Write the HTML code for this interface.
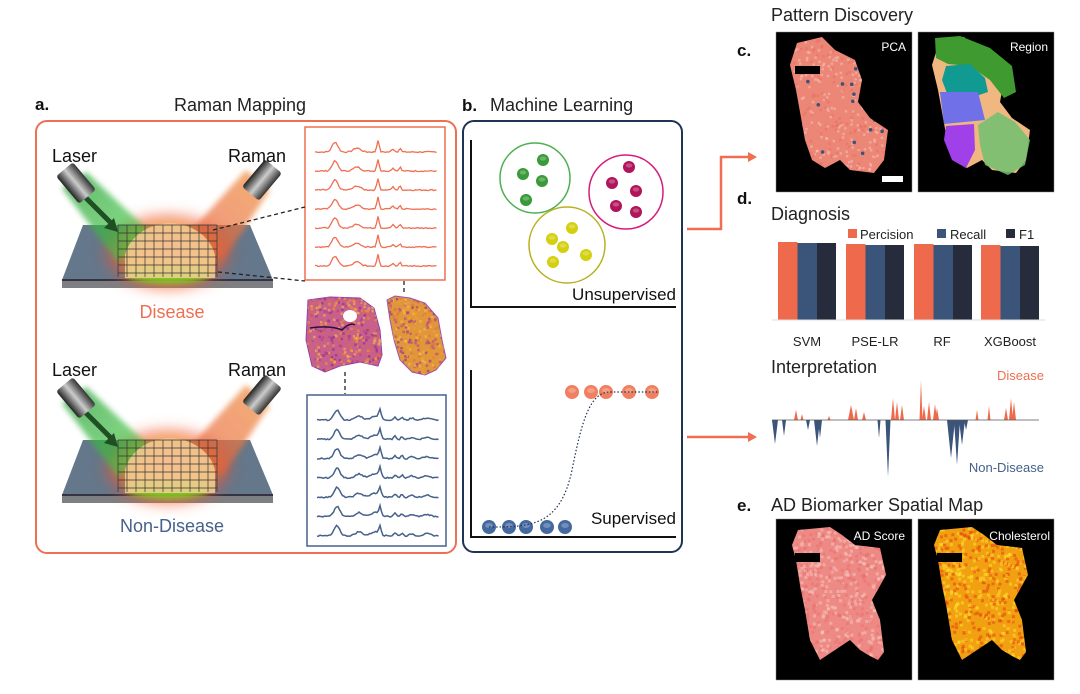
<!DOCTYPE html>
<html><head><meta charset="utf-8">
<style>
html,body{margin:0;padding:0;background:#fff;}
svg{display:block;font-family:"Liberation Sans","DejaVu Sans",sans-serif;}
</style></head>
<body>
<svg id="s" width="1080" height="694" viewBox="0 0 1080 694" xmlns="http://www.w3.org/2000/svg">
<defs>
  <radialGradient id="glowG" cx="50%" cy="50%" r="50%">
    <stop offset="0" stop-color="#f5c040" stop-opacity="1"/>
    <stop offset="0.55" stop-color="#f0a030" stop-opacity="0.85"/>
    <stop offset="0.8" stop-color="#f05030" stop-opacity="0.6"/>
    <stop offset="1" stop-color="#f05030" stop-opacity="0"/>
  </radialGradient>
  <linearGradient id="beamG" x1="0" y1="0" x2="1" y2="1">
    <stop offset="0" stop-color="#30a040" stop-opacity="0.9"/>
    <stop offset="1" stop-color="#40d040" stop-opacity="0.7"/>
  </linearGradient>
  <linearGradient id="beamO" x1="1" y1="0" x2="0" y2="1">
    <stop offset="0" stop-color="#f0a050" stop-opacity="0.95"/>
    <stop offset="1" stop-color="#e85030" stop-opacity="0.7"/>
  </linearGradient>
  <linearGradient id="cam" x1="0" y1="0" x2="1" y2="0">
    <stop offset="0" stop-color="#222"/><stop offset="0.5" stop-color="#ccc"/><stop offset="1" stop-color="#333"/>
  </linearGradient>
  <radialGradient id="brain" cx="50%" cy="45%" r="55%">
    <stop offset="0" stop-color="#f6c0a0"/><stop offset="1" stop-color="#f5d090"/>
  </radialGradient>
  <filter id="blur" x="-50%" y="-50%" width="200%" height="200%"><feGaussianBlur stdDeviation="6"/></filter>
  <filter id="blur2" x="-50%" y="-50%" width="200%" height="200%"><feGaussianBlur stdDeviation="3"/></filter>
  <clipPath id="cHeat">
    <path d="M308,300 L330,297 L360,298 L374,308 L380,330 L382,355 L378,366 L360,362 L340,366 L325,372 L312,366 L306,340 Z"/>
    <path d="M387,300 L395,296 L410,298 L425,303 L438,318 L442,340 L446,358 L436,370 L425,375 L412,372 L400,360 L394,340 L390,320 Z"/>
  </clipPath>
  <clipPath id="cPCA"><path d="M797,43 L822,37 L835,50 L855,60 L862,80 L858,102 L870,118 L888,130 L884,160 L874,173 L850,170 L840,160 L825,168 L812,160 L805,140 L800,112 L796,90 L790,65 Z"/></clipPath>
  <clipPath id="cAD"><path d="M798,530 L830,527 L842,535 L855,545 L880,548 L886,575 L872,600 L880,620 L884,652 L878,660 L870,656 L860,650 L850,640 L835,650 L820,660 L810,640 L805,610 L800,585 L796,560 L792,545 Z"/></clipPath>
  <clipPath id="cCH"><path d="M940,530 L972,527 L984,535 L997,545 L1022,548 L1028,575 L1014,600 L1022,620 L1026,652 L1020,660 L1012,656 L1002,650 L992,640 L977,650 L962,660 L952,640 L947,610 L942,585 L938,560 L934,545 Z"/></clipPath>
</defs>

<!-- ===== Panel a ===== -->
<text x="35" y="110" font-size="17" font-weight="bold" fill="#111">a.</text>
<text x="240" y="111" font-size="18" fill="#222" text-anchor="middle">Raman Mapping</text>
<rect x="36" y="121" width="420" height="432" rx="11" fill="none" stroke="#ef6f52" stroke-width="2"/>

<g id="setup1"></g>
<g id="setup2" transform="translate(0,215)"></g>

<text x="52" y="162" font-size="18" fill="#111">Laser</text>
<text x="228" y="162" font-size="18" fill="#111">Raman</text>
<text x="52" y="376" font-size="18" fill="#111">Laser</text>
<text x="228" y="376" font-size="18" fill="#111">Raman</text>
<text x="172" y="318" font-size="18" fill="#ef6f52" text-anchor="middle">Disease</text>
<text x="172" y="532" font-size="18" fill="#46618a" text-anchor="middle">Non-Disease</text>

<rect x="305" y="127" width="140" height="153" fill="#fff" stroke="#ef6f52" stroke-width="1.5"/>
<rect x="307" y="395" width="139" height="151" fill="#fff" stroke="#46618a" stroke-width="1.5"/>
<g id="specR" fill="none" stroke="#ef6f52" stroke-width="1.3"></g>
<g id="specB" fill="none" stroke="#46618a" stroke-width="1.5"></g>

<g stroke="#222" stroke-width="1.3" stroke-dasharray="4,3" fill="none">
  <line x1="213" y1="230" x2="305" y2="207"/>
  <line x1="218" y1="272" x2="305" y2="281"/>
  <line x1="404" y1="281" x2="404" y2="294"/>
  <line x1="345" y1="372" x2="345" y2="394"/>
</g>

<!-- heatmaps -->
<g id="heatbase">
  <path d="M308,300 L330,297 L360,298 L374,308 L380,330 L382,355 L378,366 L360,362 L340,366 L325,372 L312,366 L306,340 Z" fill="#c8608a" stroke="#9040b0" stroke-width="1"/>
  <path d="M387,300 L395,296 L410,298 L425,303 L438,318 L442,340 L446,358 L436,370 L425,375 L412,372 L400,360 L394,340 L390,320 Z" fill="#e0963a" stroke="#a050b0" stroke-width="1"/>
</g>
<g id="heat" clip-path="url(#cHeat)"></g>
<ellipse cx="350" cy="316" rx="7" ry="6" fill="#fff"/>

<!-- ===== Panel b ===== -->
<text x="462" y="111" font-size="17" font-weight="bold" fill="#111">b.</text>
<text x="490" y="111" font-size="18" fill="#222">Machine Learning</text>
<rect x="463" y="121" width="219" height="431" rx="11" fill="none" stroke="#1f3354" stroke-width="2"/>
<path d="M471,140 V307 H676" fill="none" stroke="#111" stroke-width="2"/>
<path d="M471,370 V537 H676" fill="none" stroke="#111" stroke-width="2"/>
<circle cx="535" cy="178" r="35" fill="none" stroke="#4cb050" stroke-width="1.5"/>
<circle cx="626" cy="192" r="37" fill="none" stroke="#d81b7a" stroke-width="1.5"/>
<circle cx="567" cy="245" r="38" fill="none" stroke="#b8b020" stroke-width="1.5"/>
<g id="dots"></g>
<text x="676" y="300" font-size="17" fill="#111" text-anchor="end">Unsupervised</text>
<text x="676" y="524" font-size="17" fill="#111" text-anchor="end">Supervised</text>
<path d="M489,527 C530,527 560,527 572,470 C582,420 590,392 610,392 L658,392" fill="none" stroke="#1f3354" stroke-width="1.2" stroke-dasharray="1.5,2"/>

<!-- arrows -->
<path d="M687,229 H721 V157 H750" fill="none" stroke="#ef6f52" stroke-width="2.5"/>
<polygon points="748,152 757,157 748,162" fill="#ef6f52"/>
<path d="M687,437 H750" fill="none" stroke="#ef6f52" stroke-width="2.5"/>
<polygon points="748,432 757,437 748,442" fill="#ef6f52"/>

<!-- ===== Panel c ===== -->
<text x="771" y="21" font-size="18" fill="#222">Pattern Discovery</text>
<text x="737" y="56" font-size="17" font-weight="bold" fill="#111">c.</text>
<rect x="776" y="32" width="136" height="160" fill="#000" stroke="#888" stroke-width="0.5"/>
<rect x="918" y="32" width="136" height="160" fill="#000" stroke="#888" stroke-width="0.5"/>
<path d="M797,43 L822,37 L835,50 L855,60 L862,80 L858,102 L870,118 L888,130 L884,160 L874,173 L850,170 L840,160 L825,168 L812,160 L805,140 L800,112 L796,90 L790,65 Z" fill="#ec8676"/>
<g transform="translate(142,0)">
  <path d="M797,43 L822,37 L835,50 L855,60 L862,80 L858,102 L870,118 L888,130 L884,160 L874,173 L850,170 L840,160 L825,168 L812,160 L805,140 L800,112 L796,90 L790,65 Z" fill="#f0b880"/>
</g>
<path d="M935,38 L960,36 L990,48 L1012,66 L1016,92 L1004,98 L990,80 L970,66 L948,64 L936,58 Z" fill="#3f9a2f"/>
<path d="M946,66 L970,64 L985,78 L988,92 L976,96 L948,96 L942,80 Z" fill="#109a92"/>
<path d="M940,92 L978,92 L985,120 L944,124 Z" fill="#7070e8"/>
<path d="M946,126 L974,124 L975,150 L966,168 L952,160 L944,140 Z" fill="#a040e8"/>
<path d="M978,125 L998,112 L1015,122 L1030,140 L1025,165 L1008,175 L985,165 L980,145 Z" fill="#70c070" opacity="0.85"/>
<g id="pcaS" clip-path="url(#cPCA)"></g>
<rect x="882" y="176" width="21" height="6" fill="#fff"/>
<text x="906" y="51" font-size="12" fill="#fff" text-anchor="end">PCA</text>
<text x="1048" y="51" font-size="12" fill="#fff" text-anchor="end">Region</text>

<!-- ===== Panel d ===== -->
<text x="737" y="204" font-size="17" font-weight="bold" fill="#111">d.</text>
<text x="771" y="220" font-size="18" fill="#222">Diagnosis</text>
<rect x="848" y="229" width="9" height="9" fill="#ef6a4c"/>
<text x="860" y="239" font-size="13" fill="#222">Percision</text>
<rect x="937" y="229" width="9" height="9" fill="#3b5479"/>
<text x="950" y="239" font-size="13" fill="#222">Recall</text>
<rect x="1006" y="229" width="9" height="9" fill="#262c3c"/>
<text x="1019" y="239" font-size="13" fill="#222">F1</text>
<g id="bars"></g>
<line x1="772" y1="320" x2="1045" y2="320" stroke="#ddd" stroke-width="1"/>
<g font-size="13" fill="#222" text-anchor="middle">
  <text x="807" y="346">SVM</text><text x="875" y="346">PSE-LR</text>
  <text x="942" y="346">RF</text><text x="1010" y="346">XGBoost</text>
</g>
<text x="771" y="373" font-size="18" fill="#222">Interpretation</text>
<text x="1044" y="380" font-size="13" fill="#ef6f52" text-anchor="end">Disease</text>
<text x="1044" y="472" font-size="13" fill="#46618a" text-anchor="end">Non-Disease</text>
<g id="interp"></g>
<line x1="772" y1="420" x2="1039" y2="420" stroke="#555" stroke-width="0.8"/>

<!-- ===== Panel e ===== -->
<text x="737" y="511" font-size="17" font-weight="bold" fill="#111">e.</text>
<text x="771" y="511" font-size="18" fill="#222">AD Biomarker Spatial Map</text>
<rect x="776" y="519" width="136" height="161" fill="#000" stroke="#888" stroke-width="0.5"/>
<rect x="918" y="519" width="136" height="161" fill="#000" stroke="#888" stroke-width="0.5"/>
<path d="M798,530 L830,527 L842,535 L855,545 L880,548 L886,575 L872,600 L880,620 L884,652 L878,660 L870,656 L860,650 L850,640 L835,650 L820,660 L810,640 L805,610 L800,585 L796,560 L792,545 Z" fill="#ee8a86"/>
<path d="M940,530 L972,527 L984,535 L997,545 L1022,548 L1028,575 L1014,600 L1022,620 L1026,652 L1020,660 L1012,656 L1002,650 L992,640 L977,650 L962,660 L952,640 L947,610 L942,585 L938,560 L934,545 Z" fill="#f0a010"/>
<g id="mapA" clip-path="url(#cAD)"></g>
<g id="mapC" clip-path="url(#cCH)"></g>
<rect x="795" y="553" width="25" height="9" fill="#000"/>
<rect x="937" y="553" width="25" height="9" fill="#000"/>
<rect x="795" y="66" width="25" height="8" fill="#000"/>
<text x="905" y="540" font-size="12" fill="#fff" text-anchor="end">AD Score</text>
<text x="1050" y="540" font-size="12" fill="#fff" text-anchor="end">Cholesterol</text>
</svg>

<script>
(function(){
var NS="http://www.w3.org/2000/svg";
function el(p,t,a){var e=document.createElementNS(NS,t);for(var k in a)e.setAttribute(k,a[k]);p.appendChild(e);return e;}
var seed=7;function r(){seed=(seed*9301+49297)%233280;return seed/233280;}
["setup1","setup2"].forEach(function(id){
 var g=document.getElementById(id);
 el(g,"polygon",{points:"62,280 273,280 273,288 62,288",fill:"#7d7f82"});
 el(g,"polygon",{points:"83,225 250,225 273,280 62,280",fill:"#65778a"});
 el(g,"line",{x1:62,y1:280,x2:273,y2:280,stroke:"#334","stroke-width":2});
 el(g,"ellipse",{cx:168,cy:252,rx:68,ry:42,fill:"url(#glowG)",filter:"url(#blur)"});
 el(g,"ellipse",{cx:168,cy:274,rx:42,ry:9,fill:"#70d020",filter:"url(#blur2)",opacity:0.9});
 el(g,"path",{d:"M62,188 L86,172 L150,232 L118,262 Z",fill:"url(#beamG)",filter:"url(#blur2)",opacity:0.85});
 el(g,"path",{d:"M246,170 L270,190 L222,262 L190,232 Z",fill:"url(#beamO)",filter:"url(#blur2)",opacity:0.85});
 el(g,"path",{d:"M125,255 A46,40 0 0 1 215,255 L215,278 L125,278 Z",fill:"url(#brain)",opacity:0.85});
 var gg=el(g,"g",{stroke:"#333","stroke-width":0.7,fill:"none"});
 for(var x=118;x<=217;x+=9)el(gg,"line",{x1:x,y1:225,x2:x,y2:277});
 for(var y=225;y<=277;y+=8)el(gg,"line",{x1:118,y1:y,x2:217,y2:y});
 el(g,"path",{d:"M85,197 L112,224",stroke:"#1f4f23","stroke-width":5});
 el(g,"polygon",{points:"104,228 118,232 114,218",fill:"#1f4f23"});
 el(g,"rect",{x:-11,y:-18,width:22,height:36,rx:3,fill:"url(#cam)",transform:"translate(76,183) rotate(-40)"});
 el(g,"rect",{x:-11,y:-18,width:22,height:36,rx:3,fill:"url(#cam)",transform:"translate(262,180) rotate(40)"});
});
function spec(gid,x0,y0,blue){
 var g=document.getElementById(gid);
 for(var i=0;i<7;i++){
  var y=y0+i*(blue?19.3:19),d="";
  for(var x=0;x<=122;x+=1.5){
   var v=0;
   v+=10*Math.exp(-Math.pow((x-20)/4,2));
   v+=4*Math.exp(-Math.pow((x-42)/5,2));
   v+=(blue?9:12)*Math.exp(-Math.pow((x-63)/1.6,2));
   if(blue)v+=4*Math.exp(-Math.pow((x-58)/6,2));
   v+=3*Math.exp(-Math.pow((x-78)/2,2))+(blue?3:4)*Math.exp(-Math.pow((x-85)/1.5,2));
   if(blue)v+=2*Math.exp(-Math.pow((x-110)/5,2))+2*Math.exp(-Math.pow((x-95)/3,2));
   v+=(r()-0.5)*1.2;
   d+=(x?"L":"M")+(x0+x).toFixed(1)+","+(y-v).toFixed(1);
  }
  el(g,"path",{d:d});
 }
}
spec("specR",315,152,false);spec("specB",317,420,true);
var h=document.getElementById("heat");
var cols=["#f0a030","#8a2a9a","#e07040","#f5c050","#b04090"];
for(var k=0;k<700;k++){var x=306+r()*140,y=296+r()*80;
 el(h,"rect",{x:x,y:y,width:2.5,height:2.5,fill:cols[Math.floor(r()*5)],opacity:0.6});}
el(h,"path",{d:"M310,328 Q330,325 342,330 Q350,322 355,325",fill:"none",stroke:"#2a1040","stroke-width":1.5});
var D=document.getElementById("dots");
function ball(x,y,c,rr){el(D,"circle",{cx:x,cy:y,r:rr||6,fill:c});el(D,"ellipse",{cx:x,cy:y-1.5,rx:(rr||6)*0.55,ry:(rr||6)*0.35,fill:"#fff",opacity:0.25});}
[[543,160],[523,174],[542,181],[526,200]].forEach(function(p){ball(p[0],p[1],"#3a9a3a");});
[[629,167],[612,183],[636,191],[616,206],[636,212]].forEach(function(p){ball(p[0],p[1],"#b0145a");});
[[572,228],[552,239],[563,247],[586,255],[553,262]].forEach(function(p){ball(p[0],p[1],"#d4d010");});
[572,591,606,629,652].forEach(function(x){ball(x,392,"#f08060",7);});
[489,509,526,547,565].forEach(function(x){ball(x,527,"#4468a0",7);});
var B=document.getElementById("bars");
[[778,242],[846,244],[914,244],[981,245]].forEach(function(b){
 el(B,"rect",{x:b[0],y:b[1],width:19.5,height:320-b[1],fill:"#ef6a4c"});
 el(B,"rect",{x:b[0]+19.5,y:b[1]+1,width:19.5,height:319-b[1],fill:"#3b5479"});
 el(B,"rect",{x:b[0]+39,y:b[1]+1,width:19,height:319-b[1],fill:"#262c3c"});
});
var I=document.getElementById("interp");
function spikes(list,col,dir){list.forEach(function(s){
 el(I,"polygon",{points:(s[0]-s[2])+",420 "+s[0]+","+(420+dir*s[1])+" "+(s[0]+s[2])+",420",fill:col});});}
spikes([[796,10,2],[802,6,1.5],[829,4,1.5],[851,15,3],[856,12,2],[864,8,2],[893,22,2],[897,18,2],[902,15,2],[921,40,1.5],[924,14,2],[929,18,2],[935,16,2],[937,12,2],[977,10,1.5],[989,14,1.5],[1006,12,2],[1011,22,2],[1014,18,2]],"#ef6a4c",-1);
spikes([[775,24,3],[784,16,2],[808,10,2],[817,26,3],[820,18,2],[879,18,1.5],[888,57,2.5],[951,38,4],[957,45,3],[962,25,3],[966,10,2]],"#3b5479",1);
var A=document.getElementById("mapA"),C=document.getElementById("mapC"),P=document.getElementById("pcaS");
for(var k=0;k<600;k++){var x=792+r()*95,y=527+r()*135;
 el(A,"rect",{x:x,y:y,width:3,height:3,fill:r()<0.5?"#f6d0c8":"#e86a66",opacity:0.45});
 el(C,"rect",{x:x+142,y:y,width:3,height:3,fill:r()<0.5?"#ffe030":"#e84010",opacity:0.55});}
for(var k=0;k<400;k++){var x=790+r()*100,y=37+r()*138;
 el(P,"rect",{x:x,y:y,width:2.5,height:2.5,fill:r()<0.6?"#f8d0c8":"#e86a5a",opacity:0.45});}
for(var k=0;k<20;k++){el(P,"circle",{cx:795+r()*90,cy:45+r()*125,r:1.8,fill:"#3b5479"});}
})();
</script>
</body></html>
